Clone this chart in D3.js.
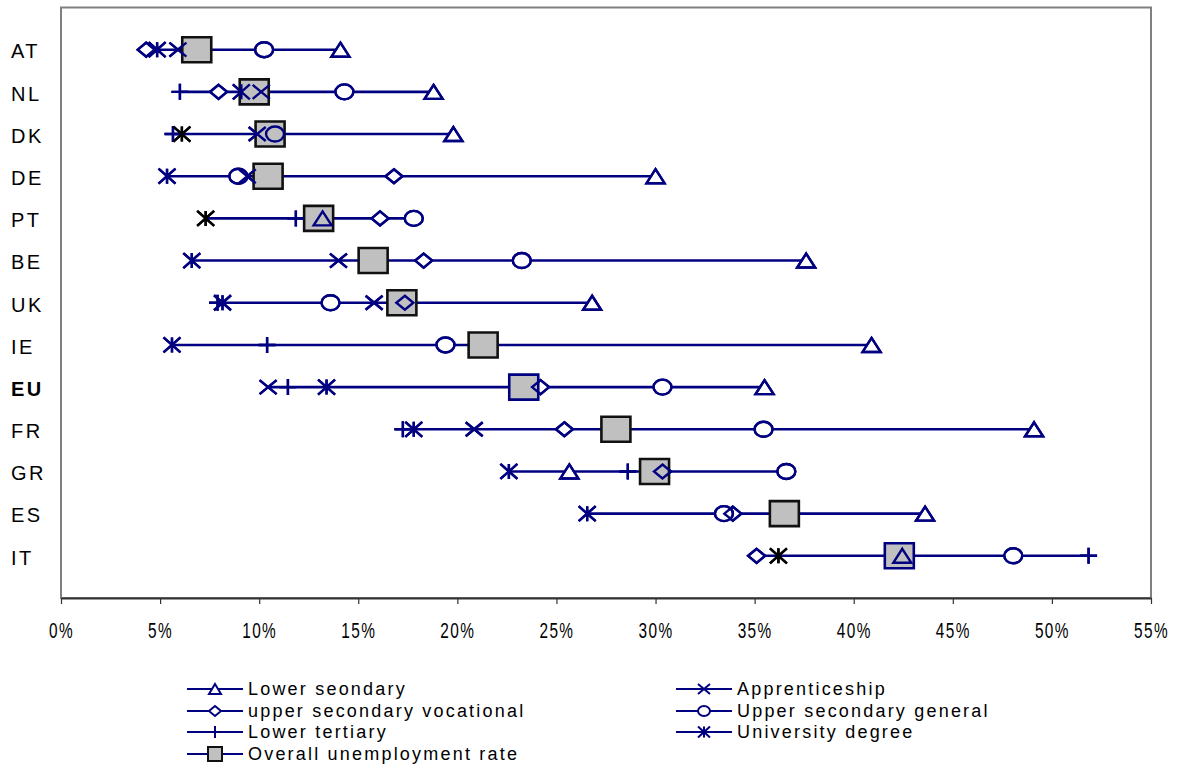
<!DOCTYPE html>
<html>
<head>
<meta charset="utf-8">
<script src="https://cdnjs.cloudflare.com/ajax/libs/d3/7.8.5/d3.min.js"></script>
<style>
  html, body { margin: 0; padding: 0; background: #fff; }
  svg { display: block; }
  text { font-family: "Liberation Sans", Arial, sans-serif; fill: #000; }
</style>
</head>
<body>
<svg id="chart" width="1183" height="767"></svg>
<script>
// ---------------- data ----------------
const countries = ["AT","NL","DK","DE","PT","BE","UK","IE","EU","FR","GR","ES","IT"];
const lowerSecondary     = [14.1, 18.8, 19.8, 30.0, 13.2, 37.6, 26.8, 40.9, 35.5, 49.1, 25.65, 43.6, 42.45];
const apprenticeship     = [5.9, 10.1, 9.9, 9.4, null, 14.0, 15.8, null, 10.45, 20.85, null, null, null];
const upperSecVocational = [4.3, 7.95, null, 16.8, 16.1, 18.3, 17.35, null, 24.2, 25.4, 30.35, 33.9, 35.1];
const upperSecGeneral    = [10.25, 14.3, 10.8, 8.95, 17.8, 23.25, 13.6, 19.4, 30.35, 35.45, 36.6, 33.45, 48.05];
const lowerTertiary      = [null, 6.0, 5.65, null, 11.85, null, 7.9, 10.4, 11.45, 17.25, 28.6, null, 51.85];
const universityDegree   = [4.85, 9.1, 6.1, 5.35, 7.3, 6.6, 8.15, 5.6, 13.4, 17.8, 22.6, 26.55, 36.2];
const overallRate        = [6.85, 9.75, 10.55, 10.45, 13.0, 15.75, 17.2, 21.3, 23.35, 28.0, 29.95, 36.5, 42.3];
const xTicks = [0,5,10,15,20,25,30,35,40,45,50,55];

const seriesNames = ["Lower seondary","Apprenticeship","upper secondary vocational","Upper secondary general","Lower tertiary","University degree","Overall unemployment rate"];
const seriesValues = [lowerSecondary, apprenticeship, upperSecVocational, upperSecGeneral, lowerTertiary, universityDegree, overallRate];
const seriesShapes = ["triangle","x","diamond","circle","plus","asterisk","square"];
// points drawn in black in the original
const blackPoints = [["DK","University degree"],["PT","University degree"],["IT","University degree"]];
const boldCategory = "EU";
const navySquareRows = ["EU","IT"];

// ---------------- layout ----------------
const NAVY = "#000080";
const svg = d3.select("#chart");
const plot = {left: 61, right: 1151, top: 7.5, bottom: 598};
const x = d3.scaleLinear().domain([0, 55]).range([plot.left, plot.right]);
const y = d3.scaleLinear().domain([0, countries.length + 1]).range([plot.bottom, plot.top]);
const rowY = i => y(countries.length - i);

// frame
svg.append("rect").attr("x", plot.left).attr("y", plot.top)
  .attr("width", plot.right - plot.left).attr("height", plot.bottom - plot.top)
  .attr("fill", "#fff").attr("stroke", "#808080").attr("stroke-width", 2);

// x axis
const xAxis = d3.axisBottom(x).tickValues(xTicks).tickSize(6).tickSizeOuter(0).tickFormat(d => d + "%");
const gx = svg.append("g").attr("transform", `translate(0,${plot.bottom})`).call(xAxis);
gx.select(".domain").attr("stroke", "#333").attr("stroke-width", 2);
gx.selectAll(".tick line").attr("stroke", "#333").attr("stroke-width", 1.2);
gx.selectAll(".tick text").remove();
gx.selectAll(".tick").append("g").attr("transform", "translate(0,34) scale(0.7,1)")
  .append("text").attr("text-anchor", "middle").attr("dominant-baseline", "middle")
  .style("font-size", "22px").style("letter-spacing", "2px")
  .text(d => d + "%");

// y category labels
svg.append("g").selectAll("text").data(countries).join("text")
  .attr("x", 11).attr("y", (d, i) => rowY(i) + 3.5)
  .attr("dominant-baseline", "middle")
  .style("font-size", "20px").style("letter-spacing", "2.5px")
  .style("font-weight", d => d === boldCategory ? "bold" : "normal")
  .text(d => d);

// ---------------- markers ----------------
function shapePath(shape, w, h) {
  const p = d3.path(), a = w / 2, b = h / 2;
  switch (shape) {
    case "triangle": p.moveTo(0, -b); p.lineTo(a, b); p.lineTo(-a, b); p.closePath(); break;
    case "diamond": p.moveTo(0, -b); p.lineTo(a, 0); p.lineTo(0, b); p.lineTo(-a, 0); p.closePath(); break;
    case "x": p.moveTo(-a, -b); p.lineTo(a, b); p.moveTo(a, -b); p.lineTo(-a, b); break;
    case "plus": p.moveTo(-a, 0); p.lineTo(a, 0); p.moveTo(0, -b); p.lineTo(0, b); break;
    case "asterisk": p.moveTo(-a, -b); p.lineTo(a, b); p.moveTo(a, -b); p.lineTo(-a, b); p.moveTo(0, -b); p.lineTo(0, b); break;
    case "square": p.rect(-a, -b, w, h); break;
    case "circle": {
      const k = 0.5523;
      p.moveTo(a, 0);
      p.bezierCurveTo(a, k * b, k * a, b, 0, b);
      p.bezierCurveTo(-k * a, b, -a, k * b, -a, 0);
      p.bezierCurveTo(-a, -k * b, -k * a, -b, 0, -b);
      p.bezierCurveTo(k * a, -b, a, -k * b, a, 0);
      p.closePath(); break;
    }
  }
  return p.toString();
}
const markerSize = {triangle:[18,14], diamond:[17,14], x:[17,14], plus:[17,16], asterisk:[17,15], square:[29,25], circle:[18,15]};
const isBlack = (c, s) => blackPoints.some(([bc, bs]) => bc === c && bs === s);

// points table
const points = [];
countries.forEach((c, i) => {
  seriesNames.forEach((s, k) => {
    const v = seriesValues[k][i];
    if (v != null) points.push({country: c, row: i, series: s, shape: seriesShapes[k], value: v});
  });
});

// range lines per row
const rows = countries.map((c, i) => {
  const vals = seriesValues.map(a => a[i]).filter(v => v != null);
  return {country: c, row: i, min: d3.min(vals), max: d3.max(vals)};
});
svg.append("g").selectAll("line").data(rows).join("line")
  .attr("x1", d => x(d.min)).attr("x2", d => x(d.max))
  .attr("y1", d => rowY(d.row)).attr("y2", d => rowY(d.row))
  .attr("stroke", NAVY).attr("stroke-width", 2.6);

const others = points.filter(p => p.shape !== "square");
const squares = points.filter(p => p.shape === "square");
const colorOf = p => isBlack(p.country, p.series) ? "#000" : NAVY;
const filled = s => (s === "triangle" || s === "diamond" || s === "circle");

// pass 1: filled markers
svg.append("g").selectAll("path").data(others).join("path")
  .attr("transform", d => `translate(${x(d.value)},${rowY(d.row)})`)
  .attr("d", d => shapePath(d.shape, ...markerSize[d.shape]))
  .attr("fill", d => filled(d.shape) ? "#fff" : "none")
  .attr("stroke", colorOf).attr("stroke-width", 2.4);
// pass 2: squares
svg.append("g").selectAll("path").data(squares).join("path")
  .attr("transform", d => `translate(${x(d.value)},${rowY(d.row)})`)
  .attr("d", d => shapePath("square", ...markerSize.square))
  .attr("fill", "#c0c0c0")
  .attr("stroke", d => navySquareRows.includes(d.country) ? NAVY : "#111").attr("stroke-width", 2.6);
// pass 3: outlines on top
svg.append("g").selectAll("path").data(others).join("path")
  .attr("transform", d => `translate(${x(d.value)},${rowY(d.row)})`)
  .attr("d", d => shapePath(d.shape, ...markerSize[d.shape]))
  .attr("fill", "none")
  .attr("stroke", colorOf).attr("stroke-width", 2.4);

// ---------------- legend ----------------
const legendOrder = [0, 1, 2, 3, 4, 5, 6];
const legendCols = [187, 676];
const legendRowY = [689, 711, 732, 754];
const legendSize = {triangle:[12,10], diamond:[12,10], x:[12,10], plus:[12,12], asterisk:[12,11], square:[14,14], circle:[12,10]};
const lg = svg.append("g").selectAll("g").data(legendOrder).join("g")
  .attr("transform", (k, j) => `translate(${legendCols[j % 2]},${legendRowY[Math.floor(j / 2)]})`);
lg.append("line").attr("x1", 0).attr("x2", 56).attr("stroke", NAVY).attr("stroke-width", 2.2);
lg.append("path").attr("transform", "translate(28,0)")
  .attr("d", k => shapePath(seriesShapes[k], ...legendSize[seriesShapes[k]]))
  .attr("fill", k => seriesShapes[k] === "square" ? "#c0c0c0" : (filled(seriesShapes[k]) ? "#fff" : "none"))
  .attr("stroke", k => seriesShapes[k] === "square" ? "#111" : NAVY).attr("stroke-width", 2);
lg.append("text").attr("x", 61).attr("y", 1).attr("dominant-baseline", "middle")
  .style("font-size", "18px").style("letter-spacing", "2.2px")
  .text(k => seriesNames[k]);
</script>
</body>
</html>
